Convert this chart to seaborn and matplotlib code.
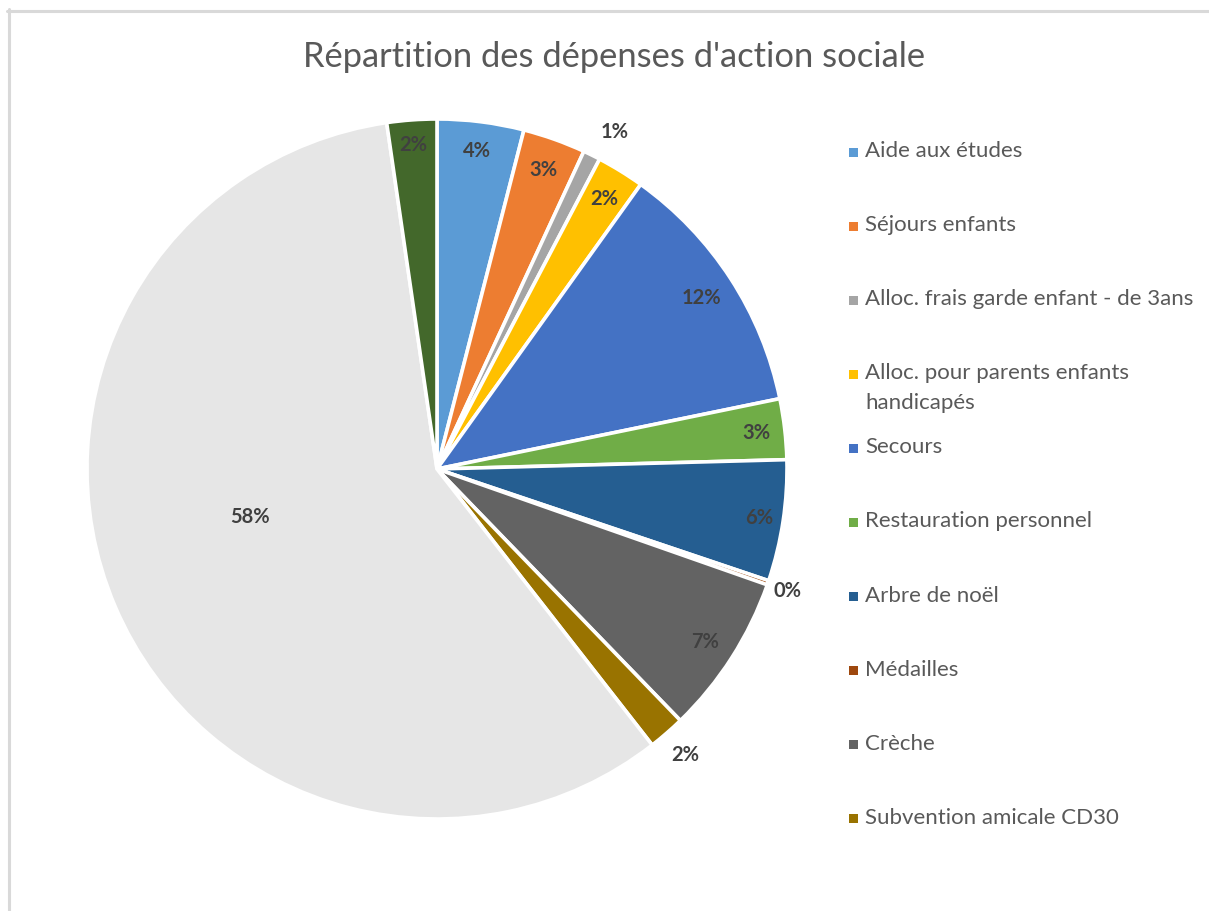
import matplotlib
matplotlib.use("Agg")
import matplotlib.pyplot as plt
import seaborn as sns
import numpy as np
from matplotlib.lines import Line2D
from matplotlib.patches import Rectangle

# Spending shares (in %), clockwise from 12 o'clock
values = [4.0, 2.9, 0.8, 2.2, 11.9, 2.8, 5.6, 0.2, 7.4, 1.7, 58.3, 2.3]

# Legend entries (the first ten slices)
legend_labels = [
    "Aide aux études",
    "Séjours enfants",
    "Alloc. frais garde enfant - de 3ans",
    "Alloc. pour parents enfants\nhandicapés",
    "Secours",
    "Restauration personnel",
    "Arbre de noël",
    "Médailles",
    "Crèche",
    "Subvention amicale CD30",
]

slice_colors = [
    "#5B9BD5", "#ED7D31", "#A5A5A5", "#FFC000", "#4472C4", "#70AD47",
    "#255E91", "#9E480E", "#636363", "#997300", "#E6E6E6", "#43682B",
]

# placement of each percentage label: fraction of radius, clockwise nudge (deg)
label_radius = [0.92, 0.91, 1.09, 0.91, 0.90, 0.92, 0.93, 1.06, 0.91, 1.08, 0.55, 0.93]
label_shift = [0, 0, 1.5, 0, 0, 0, 0, 0, 0, 0, 9, 0]

title = "Répartition des dépenses d'action sociale"

sns.set_theme(style="white")
plt.rcParams["font.family"] = ["Lato", "DejaVu Sans"]

W, H = 1209, 912
fig = plt.figure(figsize=(W / 100, H / 100), dpi=100)
fig.patch.set_facecolor("white")

# chart-area border (top and left edges visible)
fig.add_artist(Line2D([8.5 / W, 8.5 / W], [0, 1 - 10 / H], transform=fig.transFigure,
                      color="#D9D9D9", lw=2.2))
fig.add_artist(Line2D([7 / W, 1], [1 - 11.5 / H, 1 - 11.5 / H], transform=fig.transFigure,
                      color="#D9D9D9", lw=2.2))

cx, cy, R = 437, 470, 350
ax = fig.add_axes([(cx - R) / W, (H - cy - R) / H, 2 * R / W, 2 * R / H])
wedges, _ = ax.pie(
    values, colors=slice_colors, startangle=90, counterclock=False,
    wedgeprops=dict(edgecolor="white", linewidth=2.6), radius=1.0,
)
ax.set_xlim(-1, 1)
ax.set_ylim(-1, 1)
ax.set_aspect("equal")
ax.axis("off")

total = sum(values)
for w, v, r, s in zip(wedges, values, label_radius, label_shift):
    ang = np.deg2rad((w.theta1 + w.theta2) / 2 - s)
    ax.text(r * np.cos(ang), r * np.sin(ang), f"{v / total * 100:.0f}%",
            ha="center", va="center", fontsize=14.5, fontweight="bold",
            color="#404040")

fig.text(614 / W, 1 - 57 / H, title, ha="center", va="center",
         fontsize=24.8, color="#595959")

# legend: evenly spaced entries with small square keys
ys = 153 + 74.1 * np.arange(len(legend_labels))
for lab, col, y in zip(legend_labels, slice_colors, ys):
    fig.add_artist(Rectangle(((849) / W, 1 - (y + 4.5) / H), 9 / W, 9 / H,
                             transform=fig.transFigure, color=col, lw=0))
    fig.text(865 / W, 1 - (y - 12) / H, lab, ha="left", va="top",
             fontsize=16, color="#595959", linespacing=1.62)

fig.savefig("out.png", dpi=100)
